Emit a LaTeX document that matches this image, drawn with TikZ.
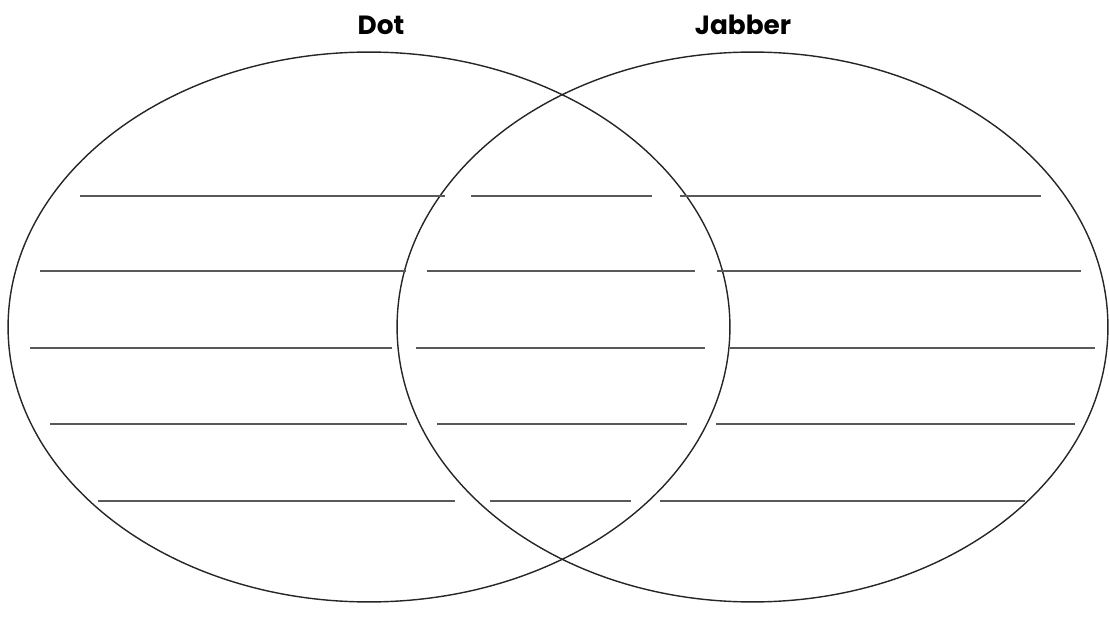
\documentclass[tikz,border=0pt]{standalone}
\usepackage{fontspec}
\setmainfont{Poppins}
\usepackage{tikz}
\usetikzlibrary{shapes.geometric, positioning}

\begin{document}
\begin{tikzpicture}[
    x=0.02cm, y=-0.02cm,
    circlebox/.style={ellipse, draw=black!85, line width=0.8pt, inner sep=0pt, minimum height=11cm},
    title/.style={font=\fontsize{15}{18}\selectfont\bfseries, inner sep=0pt},
    writeline/.style={draw=black!65, line width=0.9pt}
]

% Canvas
\useasboundingbox (0,0) rectangle (1109,628);

% Circles
\node[circlebox, minimum width=14.44cm] (dot) at (369,327) {};
\node[circlebox, minimum width=14.22cm] (jabber) at (752.5,327) {};

% Titles
\node[title] (dottitle) at (381,25) {Dot};
\node[title] (jabbertitle) at (743,25) {Jabber};

% Writing lines
\foreach \y/\la/\lb/\ma/\mb/\ra/\rb in {
    196/80/445/471/652/680/1041,
    271/40/406/427/695/717/1081,
    348/30/392/416/705/730/1095,
    424/50/407/437/687/716/1075,
    501/98/455/490/631/660/1025} {
  \draw[writeline] (\la,\y) -- (\lb,\y);
  \draw[writeline] (\ma,\y) -- (\mb,\y);
  \draw[writeline] (\ra,\y) -- (\rb,\y);
}

\end{tikzpicture}
\end{document}
